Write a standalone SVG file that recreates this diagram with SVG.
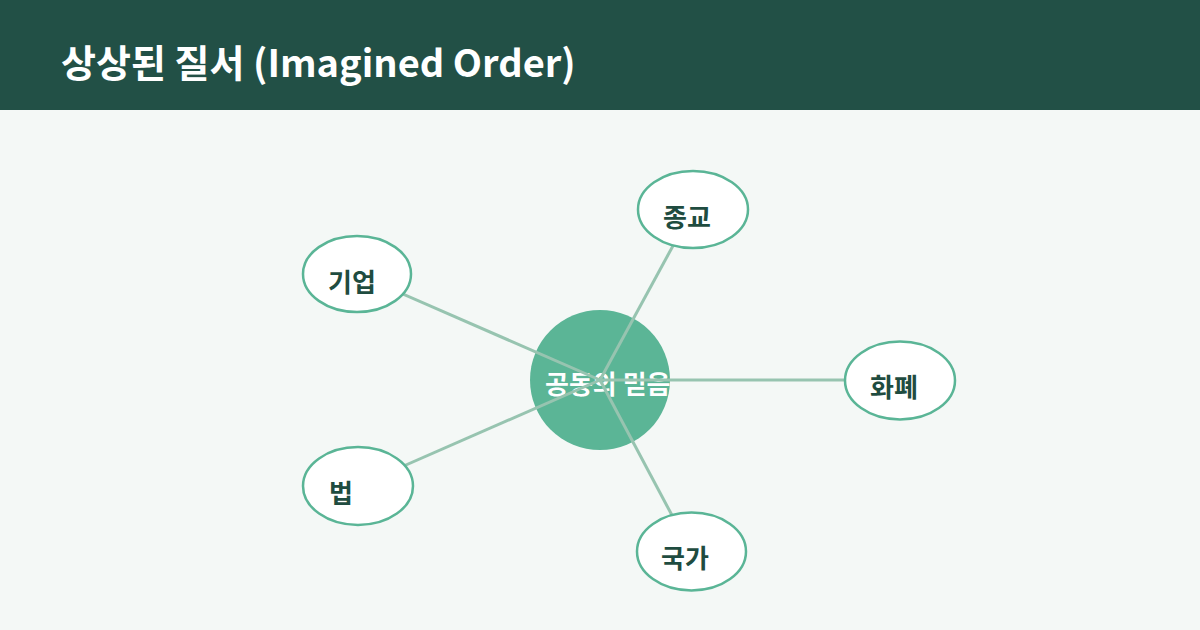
<svg xmlns="http://www.w3.org/2000/svg" width="1200" height="630" viewBox="0 0 1200 630">
<style>
.title{font-family:"Noto Sans CJK KR","Noto Sans",sans-serif;font-weight:700;font-size:38px;fill:#ffffff}
.node ellipse{fill:#ffffff;stroke:#5ab596;stroke-width:2.5}
.lbl{font-family:"Noto Sans CJK KR","Noto Sans",sans-serif;font-weight:700;font-size:26px;fill:#1f4c40}
.clbl{font-family:"Noto Sans CJK KR","Noto Sans",sans-serif;font-weight:700;font-size:26px;fill:#ffffff}
#connectors line{stroke:#97c4b0;stroke-width:3}
</style>
<rect x="0" y="0" width="1200" height="630" fill="#f4f8f6"/>
<rect x="0" y="0" width="1200" height="110" fill="#225046"/>
<text class="title" x="61" y="77">상상된 질서 (Imagined Order)</text>
<g id="center" class="node">
<circle cx="600" cy="380" r="70" fill="#5bb596"/>
<text class="clbl" x="545" y="394">공동의 믿음</text>
</g>
<g id="connectors">
<line x1="600" y1="380" x2="357" y2="274"/>
<line x1="600" y1="380" x2="693" y2="209"/>
<line x1="600" y1="380" x2="900" y2="380"/>
<line x1="600" y1="380" x2="358" y2="486"/>
<line x1="600" y1="380" x2="691" y2="551"/>
</g>
<g id="n-company" class="node">
<ellipse cx="357" cy="274" rx="54" ry="38"/>
<text class="lbl" x="328" y="292">기업</text>
</g>
<g id="n-religion" class="node">
<ellipse cx="693" cy="209.5" rx="55" ry="38.5"/>
<text class="lbl" x="663" y="227">종교</text>
</g>
<g id="n-money" class="node">
<ellipse cx="900" cy="380.5" rx="55" ry="39"/>
<text class="lbl" x="870" y="397">화폐</text>
</g>
<g id="n-law" class="node">
<ellipse cx="358" cy="486" rx="55" ry="39"/>
<text class="lbl" x="329" y="503">법</text>
</g>
<g id="n-nation" class="node">
<ellipse cx="691.5" cy="551.5" rx="54.5" ry="39"/>
<text class="lbl" x="661" y="568">국가</text>
</g>
</svg>
